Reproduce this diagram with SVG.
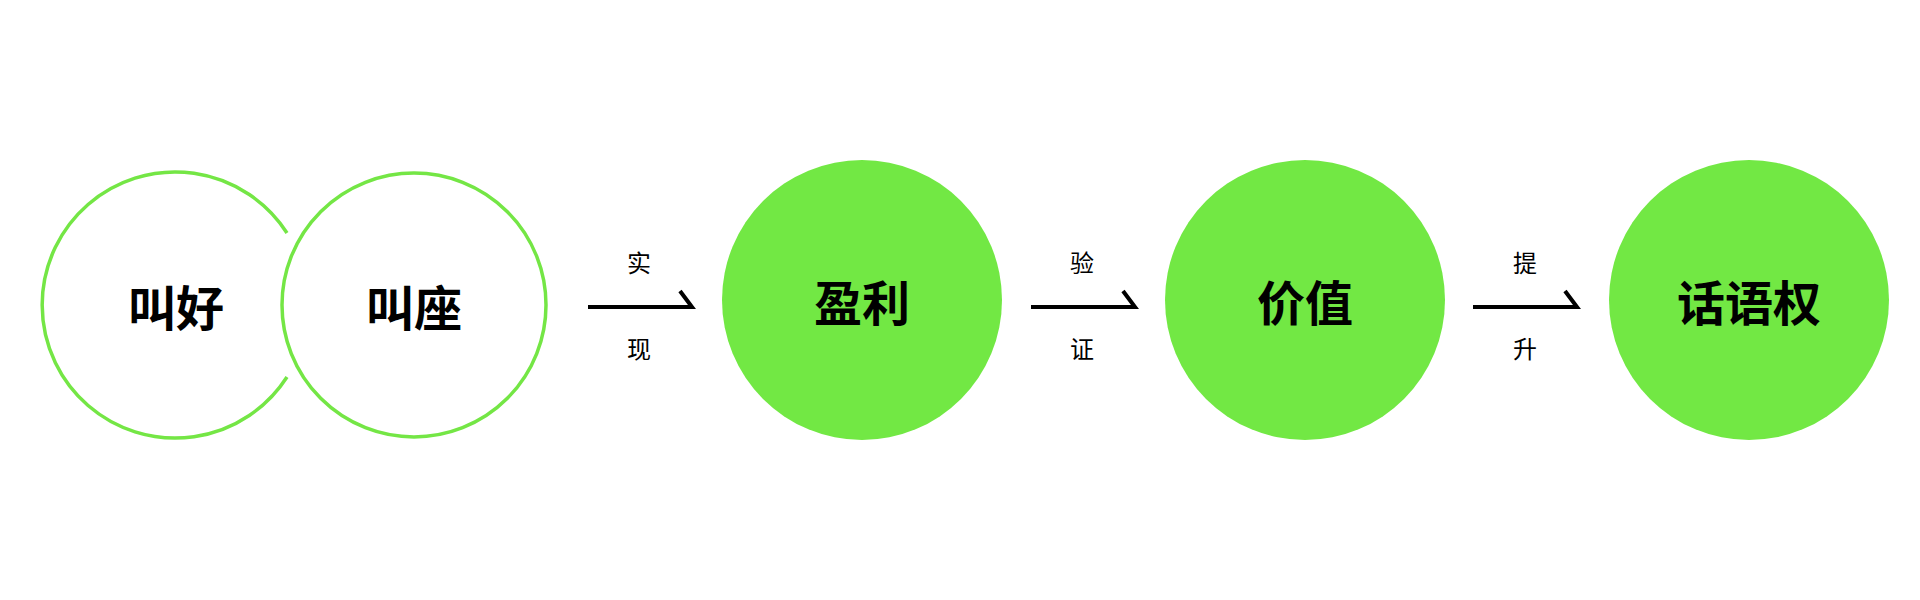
<svg xmlns="http://www.w3.org/2000/svg" width="1920" height="600" viewBox="0 0 1920 600">
<style>
.o{fill:none;stroke:#74e645;stroke-width:3.5}
.g{fill:#72e844}
.t{font-family:"Noto Sans CJK SC",sans-serif;font-size:48px;font-weight:bold;fill:#000;text-anchor:middle;dominant-baseline:central}
.l{font-family:"Noto Sans CJK SC",sans-serif;font-size:24px;fill:#000;text-anchor:middle;dominant-baseline:central}
.a{fill:none;stroke:#000;stroke-width:4}
</style>
<rect width="1920" height="600" fill="#fff"/>
<g id="n1"><path class="o" d="M287,233 A133,133 0 1 0 287,377"/><text class="t" x="176" y="305">叫好</text></g>
<g id="n2"><circle class="o" cx="414" cy="305" r="132"/><text class="t" x="414" y="305">叫座</text></g>
<g id="n3"><circle class="g" cx="862" cy="300" r="140"/><text class="t" x="862" y="300">盈利</text></g>
<g id="n4"><circle class="g" cx="1305" cy="300" r="140"/><text class="t" x="1305" y="300">价值</text></g>
<g id="n5"><circle class="g" cx="1749" cy="300" r="140"/><text class="t" x="1749" y="300">话语权</text></g>
<g id="connectors">
<path class="a" d="M588,307 H692 L680,291"/>
<path class="a" d="M1031,307 H1135 L1123,291"/>
<path class="a" d="M1473,307 H1577 L1565,291"/>
</g>
<g id="labels">
<text class="l" x="639" y="261">实</text><text class="l" x="639" y="347">现</text>
<text class="l" x="1082" y="261">验</text><text class="l" x="1082" y="347">证</text>
<text class="l" x="1525" y="261">提</text><text class="l" x="1525" y="347">升</text>
</g>
</svg>
